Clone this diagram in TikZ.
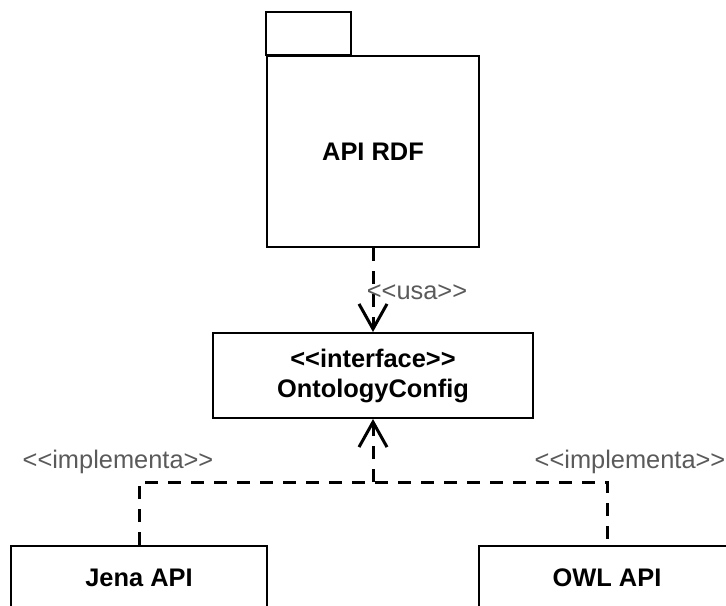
\documentclass[tikz,border=0pt]{standalone}
\usepackage{fontspec}
\usepackage{tikz}
\usetikzlibrary{arrows.meta}
\newfontfamily\umlfont{Liberation Sans}
\definecolor{lblgray}{RGB}{90,90,90}

\begin{document}
\begin{tikzpicture}[x=0.5pt,y=-0.5pt]
    \useasboundingbox (0,0) rectangle (726,605);

    \begin{scope}[every node/.style={draw,line width=1pt,inner sep=0pt,align=center,
                  font=\umlfont\fontsize{12.7}{15}\selectfont\bfseries}]
        \node (rdf) at (373,151.5) [minimum width=106pt,minimum height=95.5pt] {API RDF};
        \node (iface) at (373,375.5) [minimum width=160pt,minimum height=42.5pt] {<<interface>>\\OntologyConfig};
        \node (jena) at (139,578) [minimum width=128pt,minimum height=32pt] {Jena API};
        \node (owl) at (607,578) [minimum width=128pt,minimum height=32pt] {OWL API};
    \end{scope}
    \draw [line width=1pt] (rdf.north west) rectangle ++(85,-43);

    \coordinate (join) at (373,482);

    \begin{scope}[every node/.style={text=lblgray,font=\umlfont\fontsize{12.7}{15}\selectfont},
                  every path/.style={line width=1.5pt,dash pattern=on 6.5pt off 5pt}]
        \draw [-{Straight Barb[length=12.5pt,width=14pt]}] (rdf) -- node[xshift=22pt,yshift=-1pt] {<<usa>>} (iface);
        \draw (jena) |- node[pos=0.5,xshift=-10.5pt,yshift=10pt] {<<implementa>>} (join)
                     -| node[pos=0.5,xshift=11.5pt,yshift=10pt] {<<implementa>>} (owl);
        \draw [-{Straight Barb[length=12.5pt,width=14pt]}] (join) -- (iface);
    \end{scope}
\end{tikzpicture}
\end{document}
